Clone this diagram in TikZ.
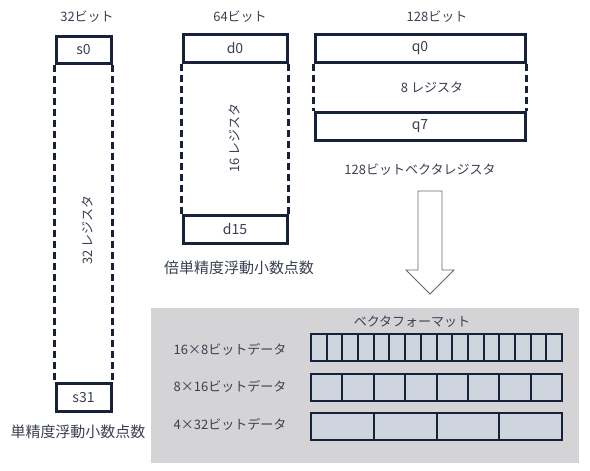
\documentclass[tikz,border=0pt]{standalone}
\usepackage{fontspec}
\setmainfont{Noto Sans CJK JP}
\definecolor{navy}{HTML}{17223A}
\definecolor{txt}{HTML}{3A4050}
\definecolor{panel}{HTML}{D4D4D6}
\definecolor{cell}{HTML}{CFD5DE}
\begin{document}
\begin{tikzpicture}[x=1pt,y=-1pt,
  every node/.style={text=txt,font=\fontsize{13}{15}\selectfont,inner sep=0pt},
  reg/.style={draw=navy,line width=3pt,fill=white,font=\fontsize{14}{16}\selectfont},
  dline/.style={draw=navy,line width=3pt,dash pattern=on 7pt off 4pt},
  cellbox/.style={draw=navy,line width=2pt,fill=cell},
  lbl/.style={},
  big/.style={font=\fontsize{15}{17}\selectfont}]
\useasboundingbox (0,0) rectangle (590,471);
% column headers
\node[lbl] (h32) at (87,17) {32ビット};
\node[lbl] (h64) at (240,17) {64ビット};
\node[lbl] (h128) at (437,17) {128ビット};
% single precision
\node[reg,minimum width=55pt,minimum height=27pt] (s0) at (83.5,49.5) {s0};
\node[reg,minimum width=55pt,minimum height=28pt] (s31) at (83.5,397.5) {s31};
\draw[dline] (s0.south west) -- (s31.north west);
\draw[dline] (s0.south east) -- (s31.north east);
\node[lbl,rotate=90] (r32) at (87,230) {32 レジスタ};
\node[lbl,big] (sp) at (78,432) {単精度浮動小数点数};
% double precision
\node[reg,minimum width=104pt,minimum height=28pt] (d0) at (235,48) {d0};
\node[reg,minimum width=104pt,minimum height=28pt] (d15) at (235,229) {d15};
\draw[dline] (d0.south west) -- (d15.north west);
\draw[dline] (d0.south east) -- (d15.north east);
\node[lbl,rotate=90] (r16) at (234,138) {16 レジスタ};
\node[lbl,big] (dp) at (239,268) {倍単精度浮動小数点数};
% quad
\node[reg,minimum width=210pt,minimum height=28pt] (q0) at (420,48) {q0};
\node[reg,minimum width=210pt,minimum height=28pt] (q7) at (420,126) {q7};
\draw[dline] (q0.south west) -- (q7.north west);
\draw[dline] (q0.south east) -- (q7.north east);
\node[lbl] (r8) at (432,87) {8 レジスタ};
\node[lbl] (vr) at (420,170) {128ビットベクタレジスタ};
% block arrow
\draw[draw=black!60,line width=0.8pt,fill=white,line join=miter]
  (418,191) -- (442,191) -- (442,270) -- (454,270) -- (430,294) -- (406,270) -- (418,270) -- cycle;
% panel
\fill[panel] (151,308) rectangle (579,463);
\node[lbl] (vf) at (412,322) {ベクタフォーマット};
\node[lbl] (l1) at (230,349) {16×8ビットデータ};
\node[lbl] (l2) at (230,386) {8×16ビットデータ};
\node[lbl] (l3) at (230,424) {4×32ビットデータ};
\foreach \i in {0,...,15} {
  \draw[cellbox] ({311+\i*251/16},334) rectangle ({311+(\i+1)*251/16},361);
}
\foreach \i in {0,...,7} {
  \draw[cellbox] ({311+\i*251/8},374) rectangle ({311+(\i+1)*251/8},401);
}
\foreach \i in {0,...,3} {
  \draw[cellbox] ({311+\i*251/4},413) rectangle ({311+(\i+1)*251/4},440);
}
\end{tikzpicture}
\end{document}
